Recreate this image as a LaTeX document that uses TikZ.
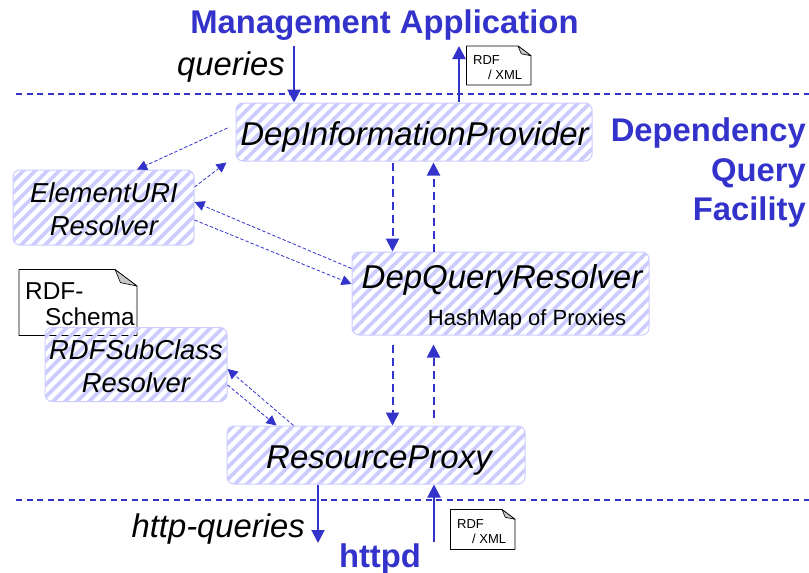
\documentclass[tikz,border=0pt]{standalone}
\usepackage{fontspec}
\setmainfont{Liberation Sans}
\usetikzlibrary{arrows.meta,calc}
\definecolor{flow}{HTML}{3333CC}
\definecolor{hatch}{HTML}{CCCCFF}
\definecolor{fold}{HTML}{C8C8C8}
\newcommand{\hatchlines}{%
  \foreach \i in {-120,-108,...,420}{%
    \draw[hatch,line width=3.6pt] ([xshift=\i pt,yshift=-20pt]path picture bounding box.south west) -- ++(130pt,130pt);}}
\newcommand{\docshape}[6]{% name, x0,y0,x1,y1, fold
  \coordinate (#1nw) at (#2,#3);
  \coordinate (#1se) at (#4,#5);
  \draw[black,line width=.8pt,fill=white,line join=round] (#1nw) -- ({#4-#6},#3) -- (#4,{#3+#6*.75}) -- (#1se) -- (#2,#5) -- cycle;
  \draw[black,line width=.6pt,fill=fold,line join=round] ({#4-#6},#3) -- (#4,{#3+#6*.75}) -- ({#4-#6*.75},{#3+#6*.6}) -- cycle;}
\tikzset{
  x=1pt,y=-1pt,
  comp/.style={draw=hatch,line width=1pt,rounded corners=7pt,inner sep=0pt,align=center,
    path picture={\hatchlines}},
  big/.style={font=\fontsize{33}{36}\selectfont\itshape},
  mid/.style={font=\fontsize{27.4}{33}\selectfont\itshape},
  head/.style={text=flow,font=\fontsize{32.8}{39}\selectfont\bfseries,inner sep=0pt},
  lab/.style={font=\fontsize{32.8}{36}\selectfont\itshape,inner sep=0pt},
  solidflow/.style={flow,line width=2pt,-{Triangle[length=13pt,width=13pt]}},
  bigflow/.style={flow,line width=2pt,dash pattern=on 8pt off 5pt,-{Triangle[length=13pt,width=13pt]}},
  thinflow/.style={flow,line width=.8pt,dash pattern=on 3.5pt off 2pt,-{Triangle[length=10pt,width=10pt]}},
  sep/.style={flow,line width=1.5pt,dash pattern=on 6pt off 4.5pt},
  doctext/.style={inner sep=0pt,anchor=base west}
}
\begin{document}
\begin{tikzpicture}
\useasboundingbox (0,0) rectangle (809,573);
% separators
\coordinate (sepAl) at (16,94); \coordinate (sepAr) at (809,94);
\coordinate (sepBl) at (16,500); \coordinate (sepBr) at (809,500);
\draw[sep] (sepAl) -- (sepAr);
\draw[sep] (sepBl) -- (sepBr);
% RDF-Schema note (behind its resolver)
\docshape{sch}{19}{269.5}{137}{335.5}{22}
\node[doctext,font=\fontsize{24.4}{26}\selectfont] (schA) at (25,299) {RDF-};
\node[doctext,font=\fontsize{24.4}{26}\selectfont] (schB) at (45,325) {Schema};
% components
\node[comp,minimum width=356pt,minimum height=58pt] (dip) at (414,132) {};
\node[big,inner sep=0pt,anchor=base] (dipT) at (414.5,145) {DepInformationProvider};
\node[comp,mid,minimum width=181pt,minimum height=75pt] (eur) at (103.5,207.5) {};
\node[mid,inner sep=0pt,align=center,anchor=center] (eurT) at (104,209) {ElementURI\\Resolver};
\node[comp,minimum width=297pt,minimum height=83pt] (dqr) at (500.5,293.5) {};
\node[big,inner sep=0pt,anchor=base] (dqrT) at (502,288) {DepQueryResolver};
\node[inner sep=0pt,anchor=base,font=\fontsize{22}{24}\selectfont] (dqrS) at (527,325) {HashMap of Proxies};
\node[comp,minimum width=182pt,minimum height=74pt] (rsc) at (136,364.5) {};
\node[mid,inner sep=0pt,align=center,anchor=center] (rscT) at (136,366) {RDFSubClass\\Resolver};
\node[comp,minimum width=298pt,minimum height=58pt] (rp) at (376,455) {};
\node[big,inner sep=0pt,anchor=base] (rpT) at (379,468) {ResourceProxy};
% headings and labels
\node[head,anchor=base] (mgmt) at (384.5,33) {Management Application};
\node[head,anchor=base east] (dep) at (806,141) {Dependency};
\node[head,anchor=base east] (qry) at (806,181) {Query};
\node[head,anchor=base east] (fac) at (806,220) {Facility};
\node[head,anchor=base] (httpd) at (380,567) {httpd};
\node[lab,anchor=base east] (qlab) at (285,75) {queries};
\node[lab,anchor=base east] (hlab) at (305,537) {http-queries};
% RDF/XML notes
\docshape{ra}{466.5}{46}{531}{85}{13}
\node[doctext,font=\fontsize{13}{15}\selectfont] (raA) at (473,64) {RDF};
\node[doctext,font=\fontsize{13}{15}\selectfont] (raB) at (488,79) {/ XML};
\docshape{rb}{450.5}{509.5}{515}{549.5}{13}
\node[doctext,font=\fontsize{13}{15}\selectfont] (rbA) at (457,528) {RDF};
\node[doctext,font=\fontsize{13}{15}\selectfont] (rbB) at (472,543) {/ XML};
% free ends
\coordinate (qtop) at (294,46);
\coordinate (rdftop) at (459,46);
\coordinate (htop) at (318,543);
\coordinate (hbot) at (434,542);
% solid flows
\draw[solidflow] (qtop) -- (dip.north -| qtop);
\draw[solidflow,shorten <=.5pt] (dip.north -| rdftop) -- (rdftop);
\draw[solidflow] (rp.south -| htop) -- (htop);
\draw[solidflow] (hbot) -- (rp.south -| hbot);
% vertical dashed flows
\draw[bigflow] ($(dip.south west)+(157,1)$) -- ($(dqr.north west)+(41,0)$);
\draw[bigflow] ($(dqr.north west)+(82,0)$) -- ($(dip.south west)+(198,1)$);
\draw[bigflow] ($(dqr.south west)+(41,9)$) -- ($(rp.north west)+(166,0)$);
\draw[bigflow] ($(rp.north west)+(207,-8)$) -- ($(dqr.south west)+(82,9)$);
% thin dashed flows
\draw[thinflow] ($(dip.west)+(-8,-4)$) -- ($(eur.north)+(33.5,0)$);
\draw[thinflow] ($(eur.east)+(0,-20.5)$) -- ($(dip.south west)+(-9,1)$);
\draw[thinflow] ($(dqr.west)+(0,-25)$) -- ($(eur.east)+(0,-5.5)$);
\draw[thinflow] ($(eur.east)+(0,12.5)$) -- ($(dqr.west)+(0,-9.5)$);
\draw[thinflow] ($(rp.north west)+(67,0)$) -- ($(rsc.east)+(0,4.5)$);
\draw[thinflow] ($(rsc.east)+(0,20.5)$) -- ($(rp.north west)+(50,0)$);
\end{tikzpicture}
\end{document}
